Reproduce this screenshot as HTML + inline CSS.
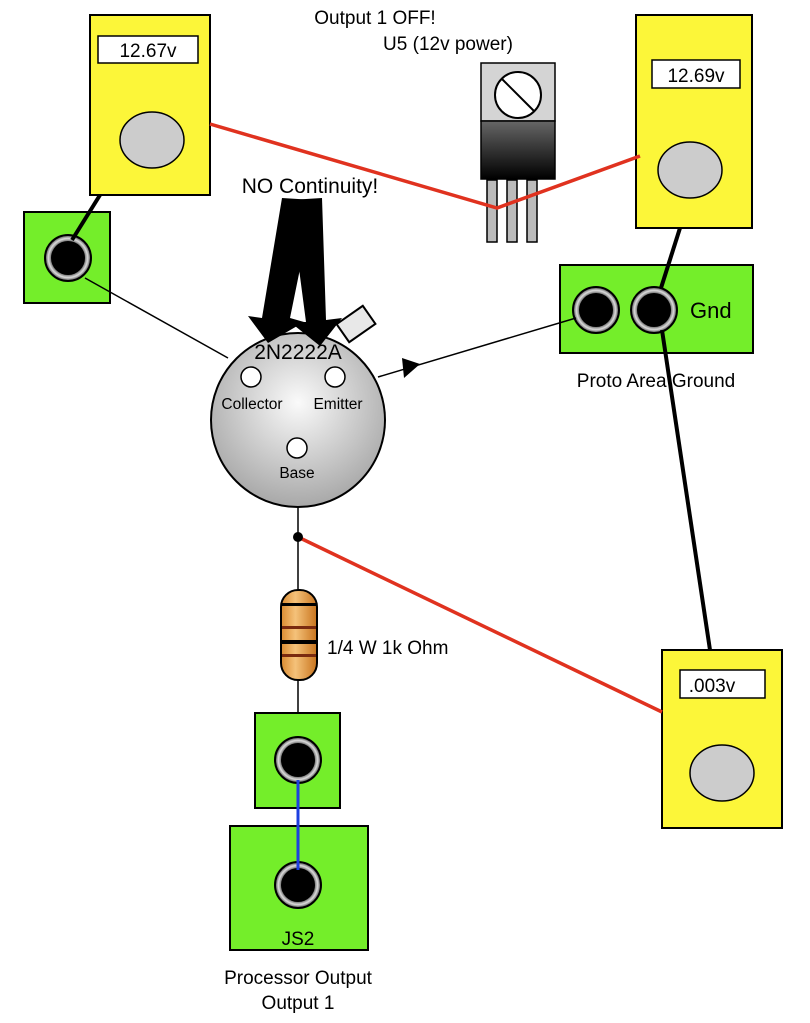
<!DOCTYPE html>
<html><head><style>
html,body{margin:0;padding:0;background:#fff;}
svg{display:block;}
text{font-family:"Liberation Sans",sans-serif;fill:#000;}
</style></head><body>
<svg width="810" height="1023" viewBox="0 0 810 1023" xmlns="http://www.w3.org/2000/svg">
<defs>
<radialGradient id="jk" cx="50%" cy="50%" r="50%">
<stop offset="0.7" stop-color="#555"/><stop offset="0.85" stop-color="#ddd"/><stop offset="1" stop-color="#444"/>
</radialGradient>
<radialGradient id="tr" cx="50%" cy="40%" r="60%">
<stop offset="0" stop-color="#fafafa"/><stop offset="1" stop-color="#a8a8a8"/>
</radialGradient>
<linearGradient id="rg" x1="0" y1="0" x2="0" y2="1">
<stop offset="0" stop-color="#666"/><stop offset="1" stop-color="#000"/>
</linearGradient>
<linearGradient id="res" x1="0" y1="0" x2="1" y2="0">
<stop offset="0" stop-color="#d98a30"/><stop offset="0.4" stop-color="#f5c27a"/><stop offset="1" stop-color="#c8741e"/>
</linearGradient>
<g id="jack"><circle r="23" fill="url(#jk)" stroke="#000" stroke-width="2"/><circle r="17" fill="#000"/></g>
</defs>

<rect x="90" y="15" width="120" height="180" fill="#fcf639" stroke="#000" stroke-width="2"/>
<rect x="98" y="36" width="100" height="27" fill="#fff" stroke="#000" stroke-width="1.5"/>
<text x="148" y="57" font-size="19" text-anchor="middle">12.67v</text>
<ellipse cx="152" cy="140" rx="32" ry="28" fill="#ccc" stroke="#000" stroke-width="1.5"/>

<rect x="636" y="15" width="116" height="213" fill="#fcf639" stroke="#000" stroke-width="2"/>
<rect x="652" y="60" width="88" height="28" fill="#fff" stroke="#000" stroke-width="1.5"/>
<text x="696" y="82" font-size="19" text-anchor="middle">12.69v</text>
<ellipse cx="690" cy="170" rx="32" ry="28" fill="#ccc" stroke="#000" stroke-width="1.5"/>

<rect x="662" y="650" width="120" height="178" fill="#fcf639" stroke="#000" stroke-width="2"/>
<rect x="680" y="670" width="85" height="28" fill="#fff" stroke="#000" stroke-width="1.5"/>
<text x="712" y="692" font-size="19" text-anchor="middle">.003v</text>
<ellipse cx="722" cy="773" rx="32" ry="28" fill="#ccc" stroke="#000" stroke-width="1.5"/>

<text x="375" y="24" font-size="19" text-anchor="middle">Output 1 OFF!</text>
<text x="448" y="50" font-size="19" text-anchor="middle">U5 (12v power)</text>
<rect x="487" y="180" width="10" height="62" fill="#bbb" stroke="#000" stroke-width="1.5"/>
<rect x="507" y="180" width="10" height="62" fill="#bbb" stroke="#000" stroke-width="1.5"/>
<rect x="527" y="180" width="10" height="62" fill="#bbb" stroke="#000" stroke-width="1.5"/>
<rect x="481" y="63" width="74" height="58" fill="#d4d4d4" stroke="#000" stroke-width="1.5"/>
<rect x="481" y="121" width="74" height="58" fill="url(#rg)" stroke="#000" stroke-width="1.5"/>
<circle cx="518" cy="95" r="23" fill="#fff" stroke="#000" stroke-width="2"/>
<line x1="502" y1="79" x2="534" y2="111" stroke="#000" stroke-width="2"/>

<polyline points="210,124 497,208 640,156" fill="none" stroke="#e0321f" stroke-width="3.5"/>
<line x1="298" y1="537" x2="662" y2="712" stroke="#e0321f" stroke-width="3.5"/>

<rect x="24" y="212" width="86" height="91" fill="#74ee2a" stroke="#000" stroke-width="2"/>
<use href="#jack" x="68" y="258"/>
<line x1="100" y1="195" x2="72" y2="240" stroke="#000" stroke-width="4"/>
<line x1="85" y1="278" x2="228" y2="358" stroke="#000" stroke-width="1.5"/>

<rect x="560" y="265" width="193" height="88" fill="#74ee2a" stroke="#000" stroke-width="2"/>
<use href="#jack" x="596" y="310"/>
<use href="#jack" x="654" y="310"/>
<text x="690" y="318" font-size="22">Gnd</text>
<text x="656" y="387" font-size="19" text-anchor="middle">Proto Area Ground</text>
<line x1="680" y1="228" x2="661" y2="288" stroke="#000" stroke-width="4"/>
<line x1="662" y1="330" x2="710" y2="650" stroke="#000" stroke-width="4"/>
<line x1="378" y1="377" x2="576" y2="318" stroke="#000" stroke-width="1.5"/>
<polygon points="420,364 404,378 402,358" fill="#000"/>

<rect x="340" y="313" width="32" height="22" fill="#e8e8e8" stroke="#000" stroke-width="2" transform="rotate(-35 356 324)"/>
<circle cx="298" cy="420" r="87" fill="url(#tr)" stroke="#000" stroke-width="2"/>
<text x="298" y="359" font-size="21" text-anchor="middle">2N2222A</text>
<circle cx="251" cy="377" r="10" fill="#fff" stroke="#000" stroke-width="1.5"/>
<circle cx="335" cy="377" r="10" fill="#fff" stroke="#000" stroke-width="1.5"/>
<circle cx="297" cy="448" r="10" fill="#fff" stroke="#000" stroke-width="1.5"/>
<text x="252" y="409" font-size="15.5" text-anchor="middle">Collector</text>
<text x="338" y="409" font-size="15.5" text-anchor="middle">Emitter</text>
<text x="297" y="478" font-size="15.5" text-anchor="middle">Base</text>

<text x="310" y="193" font-size="21" text-anchor="middle">NO Continuity!</text>
<polygon points="282,198 314,200 290,318 304,322 268,343 248,316 262,318" fill="#000"/>
<polygon points="290,200 322,198 326,320 342,318 320,346 290,322 306,322" fill="#000"/>

<line x1="298" y1="507" x2="298" y2="740" stroke="#000" stroke-width="1.5"/>
<circle cx="298" cy="537" r="5" fill="#000"/>
<rect x="281" y="590" width="36" height="90" rx="17" fill="url(#res)" stroke="#000" stroke-width="2"/>
<rect x="282" y="603" width="34" height="3" fill="#000"/>
<rect x="282" y="626" width="34" height="3" fill="#7a2a10"/>
<rect x="282" y="640" width="34" height="4" fill="#000"/>
<rect x="282" y="654" width="34" height="3" fill="#7a2a10"/>
<text x="327" y="654" font-size="19">1/4 W 1k Ohm</text>

<rect x="255" y="713" width="85" height="95" fill="#74ee2a" stroke="#000" stroke-width="2"/>
<use href="#jack" x="298" y="760"/>
<rect x="230" y="826" width="138" height="124" fill="#74ee2a" stroke="#000" stroke-width="2"/>
<use href="#jack" x="298" y="885"/>
<line x1="298" y1="780" x2="298" y2="870" stroke="#1d3fe0" stroke-width="3"/>
<text x="298" y="945" font-size="19" text-anchor="middle" fill="#111">JS2</text>
<text x="298" y="984" font-size="19" text-anchor="middle">Processor Output</text>
<text x="298" y="1009" font-size="19" text-anchor="middle">Output 1</text>
</svg>
</body></html>
